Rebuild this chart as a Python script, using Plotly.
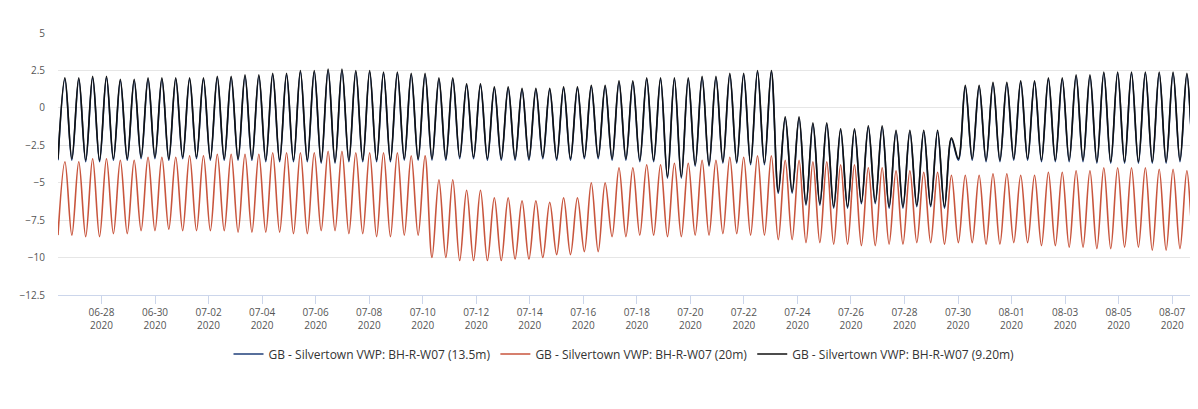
import numpy as np
import pandas as pd
import plotly.graph_objects as go

# daily tide high / low readings, 2020-06-26 .. 2020-08-07
days = pd.date_range("2020-06-26", "2020-08-07", freq="D")

black_high = [2.0, 2.1, 1.9, 2.0, 2.0, 2.0, 2.1, 2.2, 2.3, 2.5, 2.6, 2.5, 2.4, 2.3,
              2.0, 1.6, 1.4, 1.3, 1.3, 1.4, 1.5, 1.8, 2.0, 2.0, 2.1, 2.3, 2.5,
              -0.6, -1.0, -1.4, -1.2, -1.5, -1.5, -2.0,
              1.5, 1.7, 1.8, 2.0, 2.2, 2.4, 2.4, 2.4, 2.3]
black_low = [-3.4, -3.5, -3.4, -3.3, -3.4, -3.3, -3.4, -3.4, -3.5, -3.5, -3.6, -3.5, -3.5, -3.4,
             -3.4, -3.3, -3.4, -3.4, -3.3, -3.4, -3.3, -3.4, -3.5, -4.6, -3.8, -3.6, -3.7,
             -5.6, -6.4, -6.6, -6.3, -6.6, -6.5, -6.6,
             -3.4, -3.5, -3.4, -3.5, -3.5, -3.6, -3.6, -3.6, -3.5]
blue_high = [1.9, 2.0, 1.8, 1.9, 1.9, 1.9, 2.0, 2.1, 2.2, 2.4, 2.5, 2.4, 2.3, 2.2,
             1.9, 1.5, 1.3, 1.2, 1.2, 1.3, 1.4, 1.7, 1.9, 1.9, 2.0, 2.2, 2.4,
             -0.7, -1.1, -1.5, -1.3, -1.6, -1.6, -2.1,
             1.4, 1.6, 1.7, 1.9, 2.1, 2.3, 2.3, 2.3, 2.2]
blue_low = [-3.5, -3.6, -3.5, -3.4, -3.5, -3.4, -3.5, -3.5, -3.6, -3.6, -3.7, -3.6, -3.6, -3.5,
            -3.5, -3.4, -3.5, -3.5, -3.4, -3.5, -3.4, -3.5, -3.6, -4.7, -3.9, -3.7, -3.8,
            -5.7, -6.5, -6.7, -6.4, -6.7, -6.6, -6.7,
            -3.5, -3.6, -3.5, -3.6, -3.6, -3.7, -3.7, -3.7, -3.6]
red_high = [-3.6, -3.4, -3.5, -3.3, -3.3, -3.2, -3.1, -3.1, -3.0, -3.0, -2.9, -3.0, -3.0, -3.2,
            -4.8, -5.5, -6.0, -6.2, -6.3, -6.0, -5.0, -4.0, -3.8, -3.7, -3.5, -3.3, -3.2,
            -3.5, -3.6, -3.8, -4.0, -4.2, -4.3, -4.5,
            -4.5, -4.4, -4.5, -4.3, -4.2, -4.0, -4.0, -4.1, -4.2]
red_low = [-8.5, -8.6, -8.4, -8.2, -8.1, -8.2, -8.2, -8.3, -8.3, -8.4, -8.2, -8.4, -8.6, -8.5,
           -10.0, -10.2, -10.2, -10.1, -10.0, -9.8, -9.6, -8.6, -8.5, -8.6, -8.5, -8.4, -8.5,
           -8.8, -9.0, -9.1, -9.2, -9.1, -9.0, -9.1,
           -9.0, -9.1, -9.0, -9.2, -9.3, -9.4, -9.3, -9.5, -9.4]


def tide_series(highs, lows, start):
    """turn daily high/low readings into a sequence of tide extremes"""
    period = pd.Timedelta(hours=12.42)
    t = pd.Timestamp(start)
    end = pd.Timestamp("2020-08-07 22:00")
    xs, ys = [], []
    while t < end:
        d = min((t.normalize() - days[0]).days, len(days) - 1)
        xs.append(t)
        ys.append(lows[d])
        xs.append(t + period / 2)
        ys.append(highs[d])
        t += period
    return xs, ys


fig = go.Figure()
series = [
    ("GB - Silvertown VWP: BH-R-W07 (13.5m)", "#1f3f7a", blue_high, blue_low),
    ("GB - Silvertown VWP: BH-R-W07 (20m)", "#c8553d", red_high, red_low),
    ("GB - Silvertown VWP: BH-R-W07 (9.20m)", "#111111", black_high, black_low),
]
for name, color, hi, lo in series:
    xs, ys = tide_series(hi, lo, "2020-06-26 09:00")
    fig.add_trace(go.Scatter(x=xs, y=ys, name=name, mode="lines",
                             line=dict(color=color, width=1.6, shape="spline")))

# the page adds an 8px body margin, so the figure is drawn smaller
fig.update_layout(
    width=1182, height=401,
    margin=dict(l=50, r=0, t=25, b=114),
    paper_bgcolor="white", plot_bgcolor="white",
    font=dict(family="Open Sans", size=10, color="#555"),
    legend=dict(orientation="h", x=0.5, xanchor="center", y=-0.17, yanchor="top",
                font=dict(size=12, color="#333")),
)
fig.update_xaxes(
    range=["2020-06-26 09:00", "2020-08-07 16:00"], automargin=False,
    dtick=2 * 86400000, tick0="2020-06-28", tickformat="%m-%d<br>%Y",
    showgrid=False, showline=True, linecolor="#ccd6eb",
    ticks="outside", ticklen=8, tickcolor="#ccd6eb",
)
fig.update_yaxes(
    range=[-12.5, 5], dtick=2.5, gridcolor="#e6e6e6", zeroline=False,
    ticklabelstandoff=12, automargin=False,
)

fig.write_html("out.html")
